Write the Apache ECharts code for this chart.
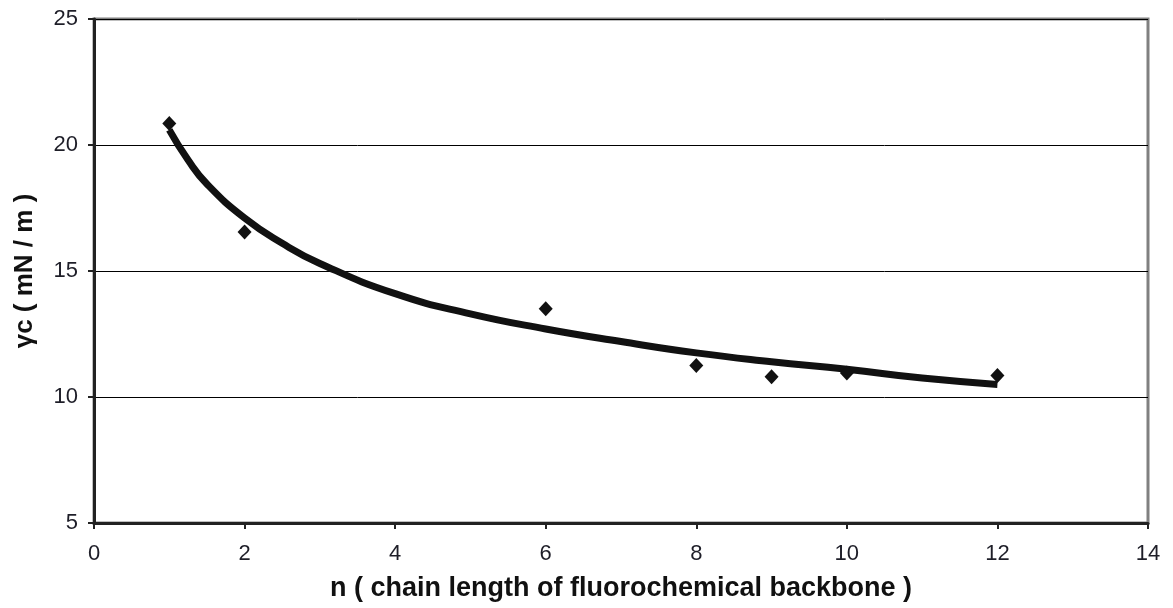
<!DOCTYPE html>
<html><head><meta charset="utf-8">
<script src="https://cdn.jsdelivr.net/npm/echarts@6/dist/echarts.min.js"></script>
<style>html,body{margin:0;padding:0;background:#fff}#c{width:1173px;height:608px}</style>
</head><body><div id="c"></div>
<script>
// measured points
var nValues = [1, 2, 6, 8, 9, 10, 12];
var gammaValues = [20.85, 16.55, 13.5, 11.25, 10.8, 10.95, 10.85];
// trend line
var trendN = [1, 1.25, 1.5, 2, 2.5, 3, 4, 5, 6, 7, 8, 9, 10, 11, 12];
var trendGamma = [20.6, 19.4, 18.45, 17.1, 16.1, 15.3, 14.1, 13.3, 12.7, 12.2, 11.75, 11.4, 11.1, 10.75, 10.5];
var xTitle = 'n ( chain length of fluorochemical backbone )';
var yTitle = 'γc ( mN / m )';

var chart = echarts.init(document.getElementById('c'));
chart.setOption({
  backgroundColor: '#fff',
  animation: false,
  grid: {left: 94, top: 19, right: 25, bottom: 85, show: true, borderColor: '#808080', borderWidth: 3, backgroundColor: 'transparent'},
  xAxis: {
    type: 'value', min: 0, max: 14, interval: 2,
    axisLine: {show: true, onZero: false, lineStyle: {color: '#222', width: 3}},
    axisTick: {show: true, inside: false, length: 6, lineStyle: {color: '#222', width: 2}},
    axisLabel: {color: '#1e1e28', fontFamily: 'Liberation Sans, Arial, sans-serif', fontSize: 22, margin: 20},
    splitLine: {show: false},
    name: xTitle, nameLocation: 'middle', nameGap: 52,
    nameTextStyle: {color: '#111', fontFamily: 'Liberation Sans, Arial, sans-serif', fontSize: 27, fontWeight: 'bold'}
  },
  yAxis: {
    type: 'value', min: 5, max: 25, interval: 5,
    axisLine: {show: true, onZero: false, lineStyle: {color: '#222', width: 3}},
    axisTick: {show: true, inside: false, length: 6, lineStyle: {color: '#222', width: 2}},
    axisLabel: {color: '#1e1e28', fontFamily: 'Liberation Sans, Arial, sans-serif', fontSize: 22, margin: 16},
    splitLine: {show: true, lineStyle: {color: '#000', width: 1}},
    name: yTitle, nameLocation: 'middle', nameGap: 56, nameRotate: 90,
    nameTextStyle: {color: '#111', fontFamily: 'Liberation Sans, Arial, sans-serif', fontSize: 26, fontWeight: 'bold'}
  },
  series: [
    {
      type: 'line', data: trendN.map(function (n, i) { return [n, trendGamma[i]]; }),
      smooth: true, showSymbol: false, symbol: 'none',
      lineStyle: {color: '#111', width: 7}, z: 2
    },
    {
      type: 'scatter', data: nValues.map(function (n, i) { return [n, gammaValues[i]]; }),
      symbol: 'diamond', symbolSize: [14, 15],
      itemStyle: {color: '#111', opacity: 1}, z: 3
    }
  ]
});
</script></body></html>
